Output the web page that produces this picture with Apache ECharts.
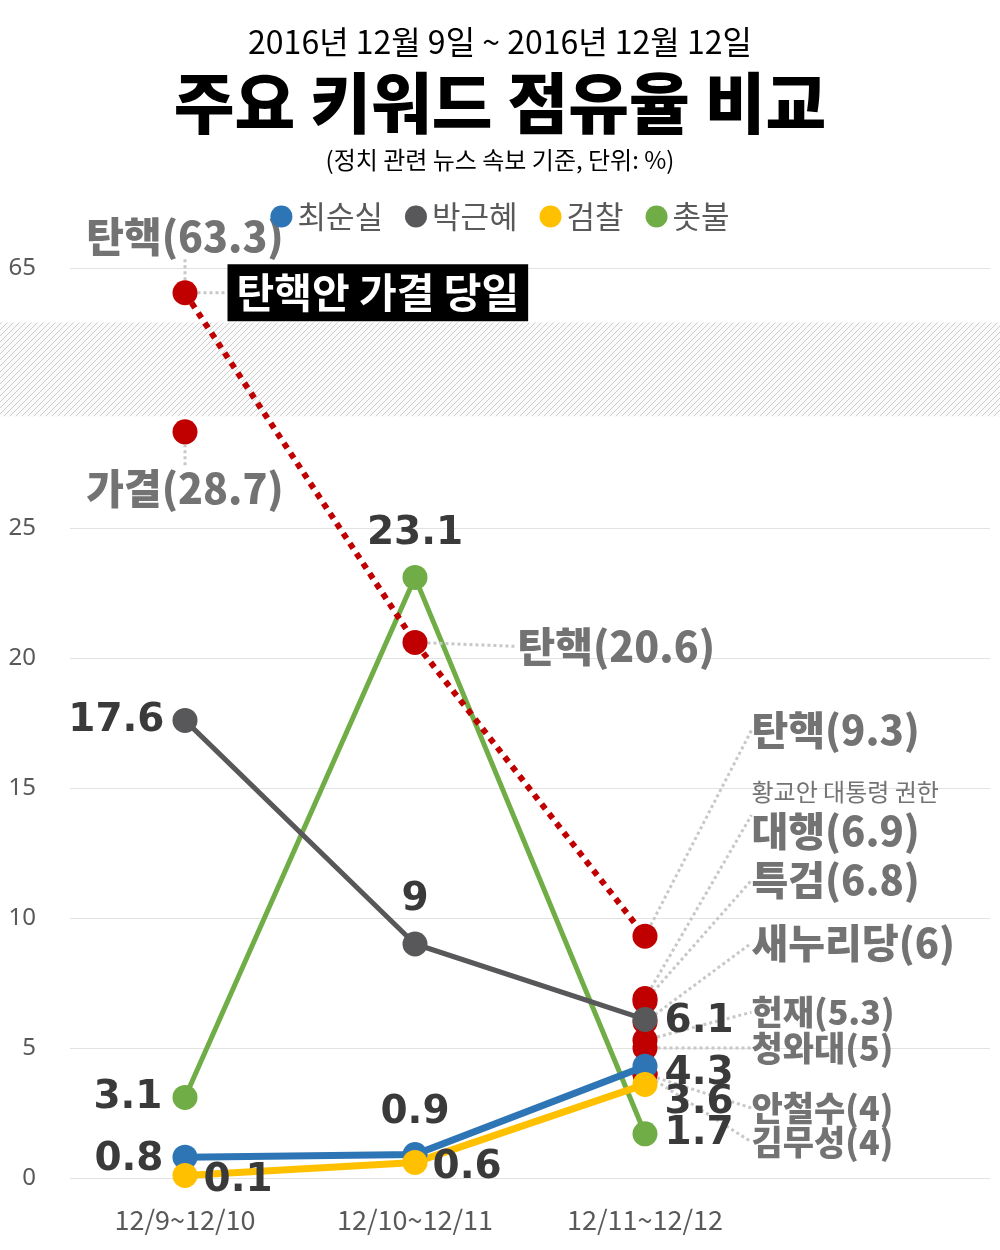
<!DOCTYPE html>
<html>
<head>
<meta charset="utf-8">
<script src="https://cdn.jsdelivr.net/npm/echarts@6/dist/echarts.min.js"></script>
<style>
html,body{margin:0;padding:0;background:#fff;}
#chart{width:1000px;height:1250px;}
</style>
</head>
<body>
<div id="chart"></div>
<script>
// ---------------- DATA ----------------
const categories = ['12/9~12/10', '12/10~12/11', '12/11~12/12'];
const choiValues = [0.8, 0.9, 4.3];          // 최순실
const parkValues = [17.6, 9, 6.1];           // 박근혜
const prosecutionValues = [0.1, 0.6, 3.6];   // 검찰
const candleValues = [3.1, 23.1, 1.7];       // 촛불
const impeachValues = [63.3, 20.6, 9.3];     // 탄핵
const keywordNames = ['가결', '황교안 대통령 권한대행', '특검', '새누리당', '헌재', '청와대', '안철수', '김무성'];
const keywordDay = [0, 2, 2, 2, 2, 2, 2, 2];
const keywordValues = [28.7, 6.9, 6.8, 6, 5.3, 5, 4, 4];
const yTickValues = [0, 5, 10, 15, 20, 25, 65];
const annotationText = '탄핵안 가결 당일';

// ---------------- LAYOUT / STYLE ----------------
const FONT_KR = '"Noto Sans CJK KR", "Noto Sans", sans-serif';
const FONT_NUM = '"DejaVu Sans", "Liberation Sans", sans-serif';
const GRAY_LABEL = '#737373';
const LEADER = { show: true, lineStyle: { color: '#c8c8c8', width: 3, type: [3, 3] } };

// broken axis: values above the break are compressed near the top
function ty(v) { return v > 30 ? 35 - (65 - v) * 0.56 : v; }
const tickPositions = yTickValues.map(ty);

// [position, distance, offsetY]
const valueLabelLayout = {
  '최순실': [['left', 9, 3], ['top', 10, 0], ['right', 7, 8]],
  '박근혜': [['left', 8, 0], ['top', 12, 0], ['right', 7, 2]],
  '검찰': [['right', 6, 5], ['right', 5, 5], ['right', 7, 18]],
  '촛불': [['left', 10, 0], ['top', 12, 0], ['right', 7, 0]]
};
const impeachLabelLayout = [
  { pos: 'top', dist: 21, dx: 0, dy: 0, size: 41 },
  { pos: 'right', dist: 90, dx: 0, dy: 4, size: 41 },
  { pos: 'right', dist: 0, dx: 94, dy: -206, size: 40 }
];
const keywordLabelLayout = [
  { pos: 'bottom', dist: 22, dx: 0, dy: 0, size: 41 },
  { pos: 'right', dist: 0, dx: 94, dy: -185, size: 40, splitAt: 10 },
  { pos: 'right', dist: 0, dx: 94, dy: -121, size: 40 },
  { pos: 'right', dist: 0, dx: 94, dy: -79, size: 40 },
  { pos: 'right', dist: 0, dx: 94, dy: -28, size: 34 },
  { pos: 'right', dist: 0, dx: 94, dy: 0, size: 34 },
  { pos: 'right', dist: 0, dx: 94, dy: 34, size: 34 },
  { pos: 'right', dist: 0, dx: 94, dy: 68, size: 34 }
];

function grayLabel(text, value, lay) {
  const rich = {
    b: { fontFamily: FONT_KR, fontWeight: 900, fontSize: lay.size, lineHeight: lay.size + 4, color: GRAY_LABEL },
    s: { fontFamily: FONT_KR, fontWeight: 'normal', fontSize: 24, lineHeight: 34, color: GRAY_LABEL }
  };
  let str;
  if (lay.splitAt) {
    str = '{s|' + text.slice(0, lay.splitAt) + '}\n{b|' + text.slice(lay.splitAt) + '(' + value + ')}';
  } else {
    str = '{b|' + text + '(' + value + ')}';
  }
  return {
    show: true, position: lay.pos, distance: lay.dist, offset: [lay.dx, lay.dy],
    align: lay.pos === 'right' ? 'left' : 'center',
    formatter: () => str, rich: rich
  };
}

function valueSeries(name, values, color, width) {
  const lay = valueLabelLayout[name];
  return {
    name: name, type: 'line', symbol: 'circle', symbolSize: 25,
    lineStyle: { color: color, width: width }, itemStyle: { color: color },
    data: values.map((v, i) => ({
      value: ty(v),
      label: { position: lay[i][0], distance: lay[i][1], offset: [0, lay[i][2]] }
    })),
    label: {
      show: true, formatter: p => String(values[p.dataIndex]),
      fontFamily: FONT_NUM, fontWeight: 'bold', fontSize: 39, color: '#3a3a3a'
    }
  };
}

const chart = echarts.init(document.getElementById('chart'), null, { renderer: 'canvas' });

const option = {
  animation: false,
  backgroundColor: '#fff',
  textStyle: { fontFamily: FONT_KR },
  title: [
    { text: '2016년 12월 9일 ~ 2016년 12월 12일', left: 'center', top: 19,
      textStyle: { fontFamily: FONT_KR, fontSize: 32, fontWeight: 'normal', color: '#000', lineHeight: 36 } },
    { text: '주요 키워드 점유율 비교', left: 'center', top: 63,
      textStyle: { fontFamily: FONT_KR, fontSize: 66, fontWeight: 900, color: '#000', lineHeight: 70 } },
    { text: '(정치 관련 뉴스 속보 기준, 단위: %)', left: 'center', top: 141,
      textStyle: { fontFamily: FONT_KR, fontSize: 24, fontWeight: 'normal', color: '#000', lineHeight: 28 } }
  ],
  legend: {
    data: ['최순실', '박근혜', '검찰', '촛불'],
    left: 'center', top: 196, icon: 'circle', itemWidth: 22, itemHeight: 22, itemGap: 22,
    textStyle: { fontFamily: FONT_KR, fontSize: 31, color: '#595959' }
  },
  grid: { left: 70, right: 10, top: 268, bottom: 72 },
  xAxis: {
    type: 'category', data: categories.concat(['']), boundaryGap: true,
    axisLine: { show: false }, axisTick: { show: false }, splitLine: { show: false },
    axisLabel: { fontFamily: FONT_KR, fontSize: 27, color: '#595959', margin: 28 }
  },
  yAxis: {
    type: 'value', min: 0, max: 35, interval: 5,
    axisLine: { show: false }, axisTick: { show: false },
    splitLine: { lineStyle: { color: '#e2e2e2', width: 1 } },
    axisLabel: {
      fontFamily: '"Noto Sans", sans-serif', fontSize: 24, color: '#595959', margin: 34,
      formatter: v => { const i = tickPositions.indexOf(v); return i >= 0 ? String(yTickValues[i]) : ''; }
    }
  },
  series: [
    valueSeries('촛불', candleValues, '#70ad47', 5),
    {
      name: 'annotation', type: 'scatter', symbol: 'circle', symbolSize: 25,
      itemStyle: { color: 'rgba(0,0,0,0)', opacity: 1 },
      data: [{ value: [0, ty(impeachValues[0])] }],
      label: {
        show: true, position: 'right', distance: 30, formatter: () => annotationText,
        backgroundColor: '#000', color: '#fff', padding: [6, 9, 6, 9],
        fontFamily: FONT_KR, fontWeight: 'bold', fontSize: 41, lineHeight: 45
      },
      labelLine: LEADER
    },
    {
      name: '탄핵', type: 'line', symbol: 'circle', symbolSize: 25,
      lineStyle: { color: '#c00000', width: 6, type: [6, 6] }, itemStyle: { color: '#c00000' },
      data: impeachValues.map((v, i) => ({
        value: ty(v),
        label: grayLabel('탄핵', v, impeachLabelLayout[i]),
        labelLine: LEADER
      }))
    },
    {
      name: '키워드', type: 'scatter', symbol: 'circle', symbolSize: 25,
      itemStyle: { color: '#c00000', opacity: 1 },
      data: keywordValues.map((v, i) => ({
        value: [keywordDay[i], ty(v)],
        label: grayLabel(keywordNames[i], v, keywordLabelLayout[i]),
        labelLine: LEADER
      }))
    },
    valueSeries('박근혜', parkValues, '#58585a', 5),
    valueSeries('최순실', choiValues, '#2e75b6', 7),
    valueSeries('검찰', prosecutionValues, '#ffc000', 7)
  ]
};

chart.setOption(option);

// hatched band marking the axis break
const pc = document.createElement('canvas');
pc.width = 6; pc.height = 6;
const g = pc.getContext('2d');
g.fillStyle = '#fafafa'; g.fillRect(0, 0, 6, 6);
g.strokeStyle = '#cdcdcd'; g.lineWidth = 1;
g.beginPath();
g.moveTo(0, 6); g.lineTo(6, 0);
g.moveTo(-1, 1); g.lineTo(1, -1);
g.moveTo(5, 7); g.lineTo(7, 5);
g.stroke();

const bandTop = chart.convertToPixel({ yAxisIndex: 0 }, 32.9);
const bandBottom = chart.convertToPixel({ yAxisIndex: 0 }, 29.3);
chart.setOption({
  graphic: [{
    type: 'rect', silent: true, z: 1,
    shape: { x: 0, y: bandTop, width: chart.getWidth(), height: bandBottom - bandTop },
    style: { fill: { image: pc, repeat: 'repeat' } }
  }]
});
</script>
</body>
</html>
